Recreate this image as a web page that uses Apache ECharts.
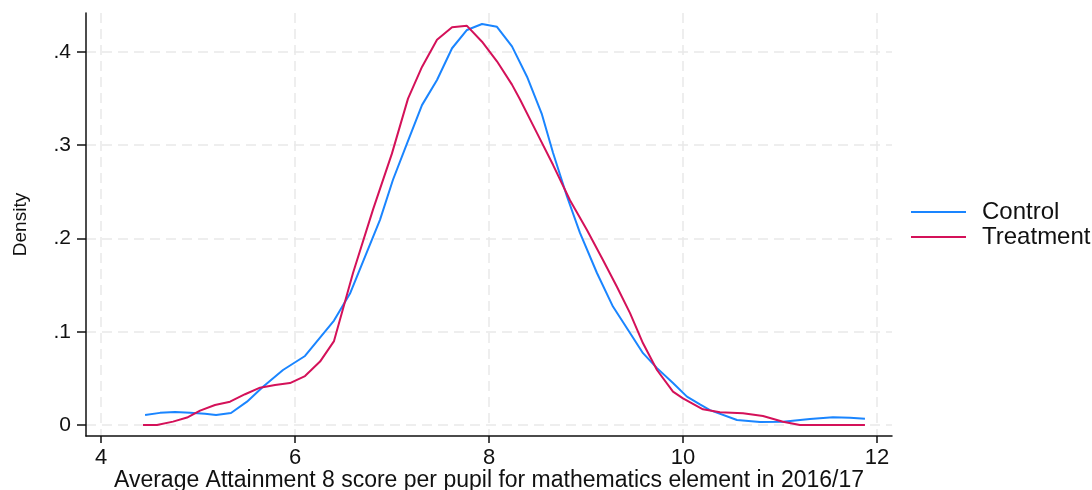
<!DOCTYPE html>
<html>
<head>
<meta charset="utf-8">
<script src="https://cdn.jsdelivr.net/npm/echarts@6/dist/echarts.min.js"></script>
<style>
  html, body { margin: 0; padding: 0; background: #ffffff; }
  #chart { width: 1092px; height: 490px; }
</style>
</head>
<body>
<div id="chart"></div>
<script>
// Kernel density estimates of the school-level score, by group
const controlX = [4.454, 4.608, 4.763, 4.918, 5.072, 5.186, 5.340, 5.505, 5.670, 5.876,
  6.103, 6.402, 6.567, 6.876, 7.010, 7.155, 7.309, 7.464, 7.619, 7.773, 7.928, 8.082,
  8.237, 8.392, 8.546, 8.660, 8.804, 8.938, 9.113, 9.278, 9.454, 9.588, 9.732, 9.897,
  10.041, 10.175, 10.278, 10.557, 10.794, 11.031, 11.309, 11.546, 11.722, 11.876];
const controlY = [0.0107, 0.0130, 0.0139, 0.0130, 0.0120, 0.0107, 0.0129, 0.0250, 0.0410, 0.0590,
  0.0740, 0.1120, 0.1410, 0.2200, 0.2630, 0.3020, 0.3430, 0.3700, 0.4040, 0.4236, 0.4300, 0.4270,
  0.4060, 0.3735, 0.3330, 0.2920, 0.2450, 0.2060, 0.1630, 0.1270, 0.0987, 0.0770, 0.0610, 0.0450,
  0.0304, 0.0220, 0.0160, 0.0054, 0.0032, 0.0035, 0.0064, 0.0082, 0.0078, 0.0068];

const treatmentX = [4.433, 4.577, 4.742, 4.887, 5.021, 5.175, 5.330, 5.485, 5.639, 5.794,
  5.948, 6.103, 6.258, 6.402, 6.598, 6.804, 6.999, 7.165, 7.309, 7.464, 7.619, 7.773,
  7.928, 8.082, 8.237, 8.320, 8.495, 8.660, 8.835, 9.010, 9.175, 9.320, 9.454, 9.588,
  9.732, 9.897, 10.000, 10.206, 10.381, 10.619, 10.825, 11.031, 11.206, 11.876];
const treatmentY = [0.0000, 0.0000, 0.0036, 0.0080, 0.0154, 0.0214, 0.0250, 0.0330, 0.0400, 0.0430,
  0.0450, 0.0525, 0.0680, 0.0900, 0.1630, 0.2310, 0.2910, 0.3500, 0.3840, 0.4130, 0.4265, 0.4280,
  0.4110, 0.3900, 0.3650, 0.3490, 0.3130, 0.2790, 0.2410, 0.2090, 0.1770, 0.1480, 0.1200, 0.0876,
  0.0590, 0.0357, 0.0286, 0.0168, 0.0136, 0.0125, 0.0097, 0.0035, 0.0000, 0.0000];

const xTicks = [4, 6, 8, 10, 12];
const yTicks = [0, 0.1, 0.2, 0.3, 0.4];
const yTickLabels = ['0', '.1', '.2', '.3', '.4'];

const seriesNames = ['Control', 'Treatment'];
const seriesColors = ['#1a85ff', '#d41159'];

const xTitle = 'Average Attainment 8 score per pupil for mathematics element in 2016/17';
const yTitle = 'Density';

const pairs = (xs, ys) => xs.map((x, i) => [x, ys[i]]);

const FONT = '"Liberation Sans", Arial, sans-serif';
const INK = '#111111';
const GRID = '#e9e9e9';

const chart = echarts.init(document.getElementById('chart'), null, { renderer: 'canvas' });

chart.setOption({
  animation: false,
  backgroundColor: '#ffffff',
  textStyle: { fontFamily: FONT, color: INK },
  grid: { left: 86, right: 200, top: 13, bottom: 54, containLabel: false, outerBoundsMode: 'none' },
  legend: {
    orient: 'vertical',
    left: 906,
    top: 195,
    itemWidth: 55,
    itemHeight: 2,
    itemGap: 1,
    icon: 'rect',
    data: seriesNames,
    textStyle: { fontFamily: FONT, fontSize: 24, color: INK, padding: [0, 0, 0, 11], lineHeight: 22 }
  },
  xAxis: {
    type: 'value',
    min: 3.845,
    max: 12.155,
    name: xTitle,
    nameLocation: 'middle',
    nameGap: 33,
    nameMoveOverlap: false,
    nameTextStyle: { fontFamily: FONT, fontSize: 23, color: INK },
    axisLine: { show: true, onZero: false, lineStyle: { color: INK, width: 1.5 } },
    axisTick: { show: true, length: 7, customValues: xTicks, lineStyle: { color: INK, width: 1.5 } },
    axisLabel: { customValues: xTicks, margin: 11, fontFamily: FONT, fontSize: 22, color: INK },
    splitLine: { show: true, lineStyle: { color: GRID, width: 1.5, type: [10, 6] } }
  },
  yAxis: {
    type: 'value',
    min: -0.0118,
    max: 0.4418,
    name: yTitle,
    nameLocation: 'middle',
    nameRotate: 90,
    nameGap: 56,
    nameMoveOverlap: false,
    nameTextStyle: { fontFamily: FONT, fontSize: 19, color: INK },
    axisLine: { show: true, onZero: false, lineStyle: { color: INK, width: 1.5 } },
    axisTick: { show: true, length: 9, customValues: yTicks, lineStyle: { color: INK, width: 1.5 } },
    axisLabel: {
      customValues: yTicks,
      margin: 15,
      fontFamily: FONT,
      fontSize: 21,
      color: INK,
      formatter: v => yTickLabels[yTicks.findIndex(t => Math.abs(t - v) < 1e-9)] ?? ''
    },
    splitLine: { show: true, lineStyle: { color: GRID, width: 1.5, type: [10, 6] } }
  },
  series: [
    {
      name: seriesNames[0],
      type: 'line',
      data: pairs(controlX, controlY),
      symbol: 'none',
      smooth: false,
      lineStyle: { color: seriesColors[0], width: 2 },
      itemStyle: { color: seriesColors[0] },
      z: 3
    },
    {
      name: seriesNames[1],
      type: 'line',
      data: pairs(treatmentX, treatmentY),
      symbol: 'none',
      smooth: false,
      lineStyle: { color: seriesColors[1], width: 2 },
      itemStyle: { color: seriesColors[1] },
      z: 4
    }
  ]
});
</script>
</body>
</html>
